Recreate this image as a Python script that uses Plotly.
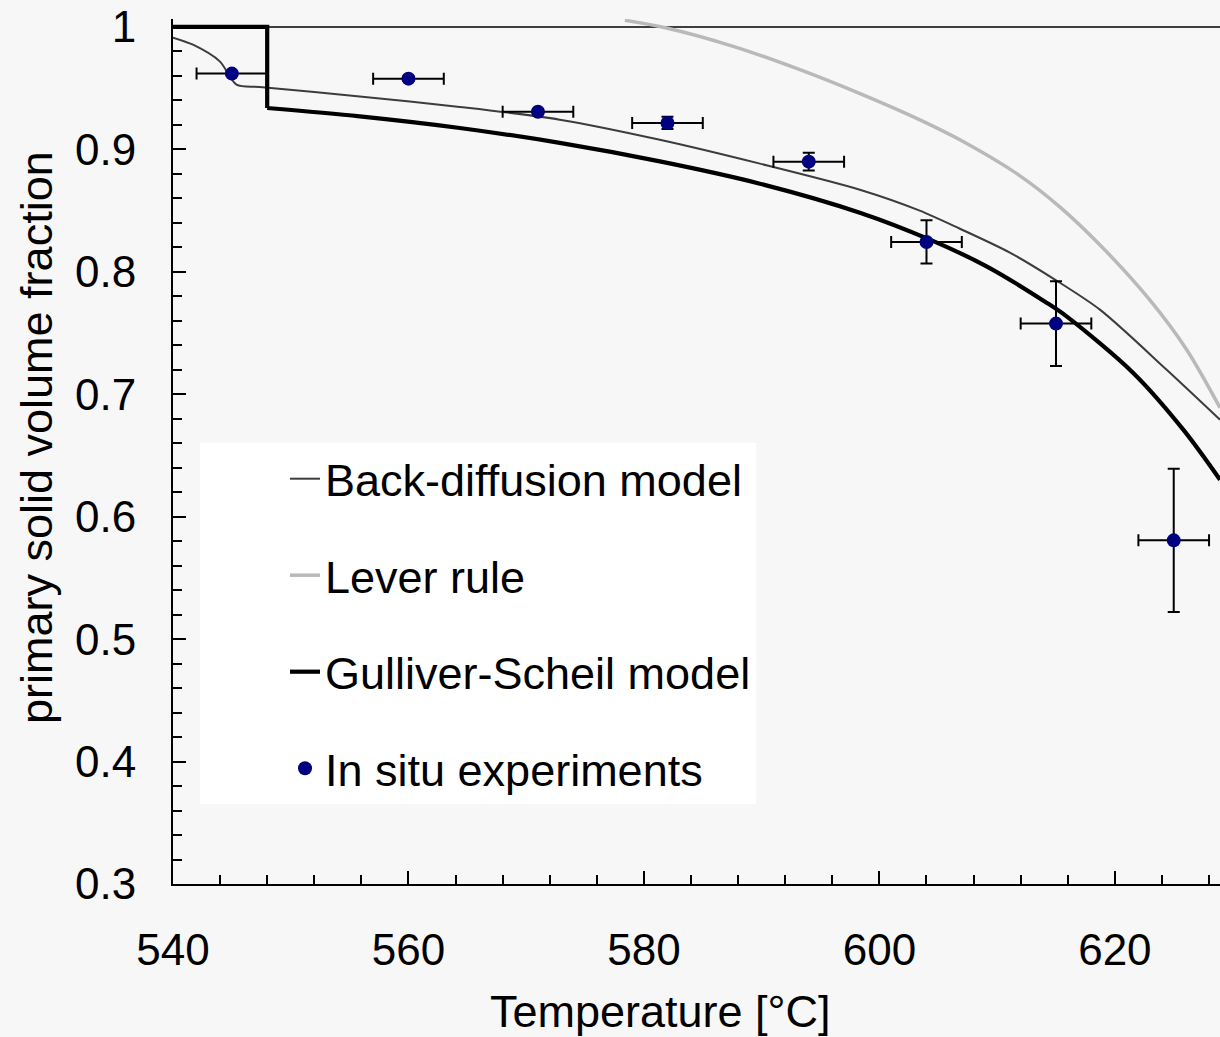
import plotly.graph_objects as go

# ---------------- data ----------------
# Back-diffusion model
bd_T = [540.0, 541.7, 543.97, 545.39, 547.37, 555.86, 564.36, 572.85, 581.35,
        589.85, 598.34, 603.43, 606.84, 611.08, 614.91, 618.73, 624.4, 628.93]
bd_f = [0.9913, 0.9855, 0.9719, 0.9529, 0.9510, 0.9433, 0.9347, 0.9243, 0.9079,
        0.8884, 0.8671, 0.8500, 0.8352, 0.8157, 0.7936, 0.7691, 0.7200, 0.6792]

# Lever rule
lv_T = [578.38, 581.92, 587.58, 593.25, 598.91, 603.44, 606.84, 611.94, 615.34,
        618.74, 622.98, 626.1, 628.93]
lv_f = [1.0054, 0.9992, 0.9842, 0.9651, 0.9433, 0.9241, 0.9078, 0.8784, 0.8529,
        0.8219, 0.7769, 0.7364, 0.6890]

# Gulliver-Scheil model (first three points: plateau and vertical drop)
gs_T = [540.0, 548.0, 548.0, 555.86, 564.36, 572.85, 581.35, 589.85, 598.34,
        604.29, 609.1, 614.2, 615.9, 621.56, 625.81, 628.93]
gs_f = [1.0, 1.0, 0.9338, 0.9270, 0.9175, 0.9053, 0.8902, 0.8720, 0.8483,
        0.8263, 0.8045, 0.7748, 0.7636, 0.7174, 0.6711, 0.6302]

# In situ experiments
exp_T = [545, 560, 571, 582, 594, 604, 615, 625]
exp_f = [0.9619, 0.9578, 0.9308, 0.9216, 0.8900, 0.8244, 0.7577, 0.5807]
exp_T_err = [3, 3, 3, 3, 3, 3, 3, 3]
exp_f_err = [0.002, 0.002, 0.002, 0.005, 0.0072, 0.0177, 0.0347, 0.0585]

x_tickvals = [540, 560, 580, 600, 620]
y_tickvals = [0.3, 0.4, 0.5, 0.6, 0.7, 0.8, 0.9, 1.0]
y_ticktext = ["0.3", "0.4", "0.5", "0.6", "0.7", "0.8", "0.9", "1"]

FONT = "Liberation Sans, Arial, sans-serif"

fig = go.Figure()

fig.add_trace(go.Scatter(
    x=bd_T, y=bd_f, mode="lines", name="Back-diffusion model",
    line=dict(color="#3c3c3c", width=2, shape="spline", smoothing=0.8),
    legendgroup="g1"))

fig.add_trace(go.Scatter(
    x=lv_T, y=lv_f, mode="lines", name="Lever rule",
    line=dict(color="#b9b9b9", width=3.5, shape="spline", smoothing=0.9),
    legendgroup="g2"))

# Gulliver-Scheil: plateau + step (straight), then the smooth solidification curve
fig.add_trace(go.Scatter(
    x=gs_T[:3], y=gs_f[:3], mode="lines", name="Gulliver-Scheil model",
    line=dict(color="#000000", width=4.2),
    legendgroup="g3"))
fig.add_trace(go.Scatter(
    x=gs_T[2:], y=gs_f[2:], mode="lines", name="Gulliver-Scheil model",
    line=dict(color="#000000", width=4.2, shape="spline", smoothing=0.9),
    legendgroup="g3", showlegend=False))

fig.add_trace(go.Scatter(
    x=exp_T, y=exp_f, mode="markers", name="In situ experiments",
    marker=dict(color="#000080", size=14),
    error_x=dict(type="data", array=exp_T_err, color="black", thickness=2, width=6),
    error_y=dict(type="data", array=exp_f_err, color="black", thickness=2, width=6),
    legendgroup="g4"))

axis_common = dict(
    showline=True, linecolor="black", linewidth=2,
    ticks="inside", ticklen=13, tickwidth=1.5, tickcolor="black",
    showgrid=False, zeroline=False, ticklabeloverflow="allow", automargin=False,
    tickfont=dict(family=FONT, size=44, color="black"),
)

fig.update_xaxes(
    range=[540, 628.93], tickvals=x_tickvals, ticklabelstandoff=26,
    minor=dict(dtick=4, tick0=540, ticks="inside", ticklen=9, tickwidth=1.5,
               tickcolor="black", showgrid=False),
    **axis_common)

fig.update_yaxes(
    range=[0.3, 1.0065], tickvals=y_tickvals, ticktext=y_ticktext,
    ticklabelstandoff=26,
    minor=dict(dtick=0.02, tick0=0.3, ticks="inside", ticklen=9, tickwidth=1.5,
               tickcolor="black", showgrid=False),
    **axis_common)

# top frame line at f = 1
fig.add_shape(type="line", xref="paper", x0=0, x1=1, yref="y", y0=1, y1=1,
              line=dict(color="black", width=1.5), layer="below")

# axis titles
fig.add_annotation(text="Temperature [°C]", xref="paper", x=0.466, yref="paper", y=0,
                   yshift=-127, showarrow=False, xanchor="center", yanchor="middle",
                   font=dict(family=FONT, size=45, color="black"))
fig.add_annotation(text="primary solid volume fraction", xref="paper", x=0, xshift=-137,
                   yref="paper", y=0.5156, textangle=-90, showarrow=False,
                   xanchor="center", yanchor="middle",
                   font=dict(family=FONT, size=45, color="black"))

# full-window figure; the page body margin is removed below
fig.update_layout(
    width=1220, height=1037, autosize=False,
    margin=dict(l=173, r=0, t=19, b=153, pad=0, autoexpand=False),
    paper_bgcolor="#f7f7f7", plot_bgcolor="#f7f7f7",
    font=dict(family=FONT, color="black"),
    showlegend=True,
    legend=dict(x=0.0258, xanchor="left", y=0.5099, yanchor="top",
                bgcolor="white", borderwidth=0, tracegroupgap=35,
                traceorder="grouped", indentation=85,
                font=dict(family=FONT, size=45, color="black")),
)

fig.write_html("out.html",
               config={"displayModeBar": False},
               post_script="document.body.style.margin='0';"
                           "document.body.style.overflow='hidden';")
